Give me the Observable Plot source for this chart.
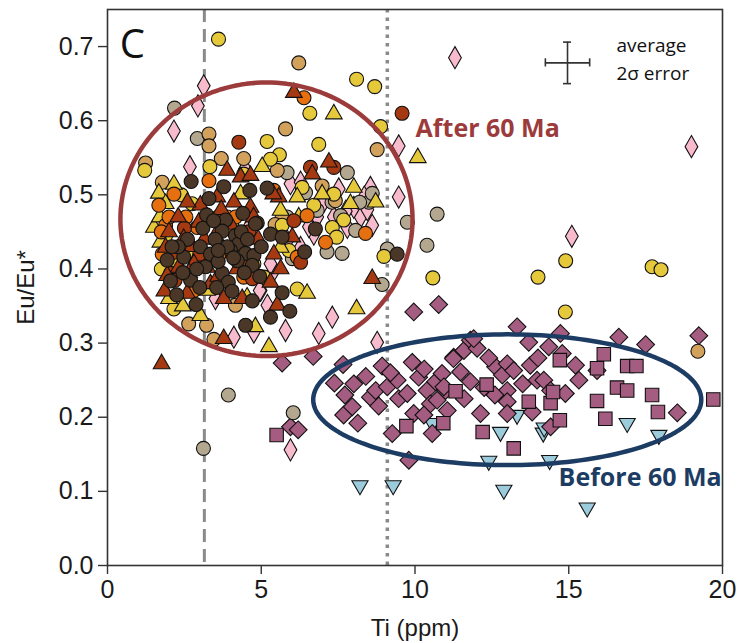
<!DOCTYPE html>
<html>
<head>
<meta charset="utf-8">
<script src="https://cdn.jsdelivr.net/npm/d3@7"></script>
<script src="https://cdn.jsdelivr.net/npm/@observablehq/plot@0.6"></script>
<style>
  html, body { margin: 0; padding: 0; background: #fff; }
  #chart svg { display: block; }
</style>
</head>
<body>
<div id="chart"></div>
<script>
// Zircon Eu/Eu* versus Ti (ppm); each array is one sample group as [Ti, Eu/Eu*] pairs.

const lightBlueTriangles = [
  [12.78,0.180],[13.32,0.203],[14.17,0.179],[12.40,0.141],[14.38,0.142],[16.9,0.192],
  [17.93,0.176],[12.89,0.102],[15.6,0.078],[8.21,0.108],[9.29,0.108],[10.56,0.192],[14.2,0.186]
];

const mauveDiamonds = [
  [9.96,0.342],[10.77,0.352],[5.68,0.273],[6.69,0.282],[7.66,0.271],[8.93,0.269],[9.91,0.274],
  [7.38,0.246],[8.01,0.245],[7.72,0.230],[7.68,0.203],[8.14,0.192],[7.96,0.214],[8.55,0.227],
  [8.72,0.236],[8.82,0.215],[9.10,0.241],[9.42,0.250],[9.47,0.225],[9.26,0.178],[9.80,0.142],
  [9.75,0.232],[9.96,0.205],[10.12,0.254],[10.39,0.236],[10.5,0.218],[10.56,0.178],[10.67,0.248],
  [10.88,0.259],[10.99,0.236],[11.05,0.209],[11.26,0.281],[11.59,0.290],[11.80,0.304],[12.02,0.293],
  [11.48,0.261],[11.80,0.248],[10.29,0.203],[10.72,0.223],[12.13,0.205],[12.62,0.268],[12.84,0.257],
  [13.0,0.272],[13.21,0.263],[13.32,0.322],[13.70,0.301],[13.75,0.270],[13.97,0.250],[13.0,0.236],
  [13.0,0.221],[13.0,0.205],[13.81,0.207],[14.19,0.250],[14.41,0.236],[14.73,0.313],[14.35,0.295],
  [14.79,0.286],[14.89,0.232],[15.22,0.270],[15.33,0.250],[14.41,0.187],[15.92,0.263],[16.63,0.308],
  [17.50,0.298],[18.53,0.206],[19.23,0.310],[5.95,0.187],[6.2,0.183],[11.25,0.279],[11.91,0.306],
  [10.94,0.241],[12.4,0.280],[12.25,0.240],[9.2,0.260],[8.4,0.255],[10.3,0.265],[12.6,0.230],
  [11.6,0.225],[13.5,0.245],[14.0,0.280]
];

const mauveSquares = [
  [11.32,0.235],[12.33,0.244],[9.72,0.188],[10.92,0.192],[12.20,0.180],[13.70,0.221],[13.21,0.158],
  [14.41,0.219],[14.49,0.234],[14.71,0.277],[14.71,0.196],[15.92,0.266],[16.14,0.285],[16.90,0.269],
  [17.2,0.269],[15.92,0.222],[16.57,0.240],[16.90,0.236],[16.19,0.198],[17.71,0.230],[17.90,0.207],
  [19.70,0.224],[5.5,0.176]
];

const pinkDiamonds = [
  [3.13,0.647],[2.94,0.620],[2.16,0.586],[2.68,0.538],[4.47,0.535],[9.47,0.566],[9.47,0.497],
  [7.52,0.508],[8.55,0.510],[8.61,0.459],[5.95,0.515],[5.41,0.398],[4.98,0.371],[5.20,0.351],
  [7.31,0.335],[6.87,0.313],[5.79,0.317],[4.11,0.308],[4.76,0.315],[8.77,0.301],[3.51,0.360],
  [6.28,0.517],[6.82,0.470],[7.36,0.470],[8.23,0.470],[8.01,0.483],[7.80,0.456],[5.84,0.438],
  [6.28,0.429],[6.71,0.447],[5.30,0.407],[4.54,0.452],[11.30,0.685],[15.10,0.444],[18.99,0.565],
  [5.95,0.156],[4.95,0.371],[7.05,0.492],[8.35,0.497],[7.75,0.478],[6.55,0.457],[8.45,0.480]
];

const grayCircles = [
  [2.18,0.617],[2.92,0.576],[7.80,0.530],[5.84,0.530],[6.44,0.503],[7.58,0.472],[8.50,0.490],
  [8.61,0.502],[8.07,0.452],[7.14,0.423],[7.63,0.421],[8.93,0.379],[9.75,0.463],[10.39,0.432],
  [9.10,0.427],[6.82,0.479],[6.01,0.414],[5.84,0.470],[10.72,0.474],[3.93,0.230],[6.04,0.206],
  [3.12,0.158],[8.2,0.490],[7.3,0.490]
];

const tanCircles = [
  [3.30,0.582],[3.30,0.566],[5.79,0.589],[4.43,0.549],[3.70,0.549],[1.24,0.543],[1.78,0.517],
  [5.52,0.533],[7.41,0.492],[8.77,0.561],[5.68,0.470],[2.64,0.326],[3.22,0.324],[3.46,0.305],
  [6.22,0.678],[4.16,0.351],[6.98,0.512],[19.2,0.289],[5.45,0.460],[3.9,0.470]
];

const yellowCircles = [
  [3.61,0.710],[8.10,0.656],[8.69,0.646],[6.58,0.610],[8.88,0.592],[5.19,0.572],[6.87,0.568],
  [5.59,0.554],[5.30,0.548],[1.21,0.533],[3.33,0.538],[6.33,0.510],[7.68,0.466],[7.31,0.456],
  [7.45,0.443],[5.90,0.425],[8.99,0.417],[1.89,0.445],[2.16,0.346],[5.09,0.389],[6.17,0.373],
  [4.43,0.528],[2.75,0.488],[2.37,0.429],[4.76,0.407],[5.68,0.459],[2.81,0.420],[4.06,0.456],
  [7.36,0.501],[6.71,0.486],[10.58,0.388],[14.0,0.389],[14.9,0.411],[17.71,0.403],[18.0,0.399],
  [14.89,0.342],[1.75,0.400],[2.4,0.500]
];

const yellowTriangles = [
  [7.36,0.609],[10.09,0.550],[5.03,0.538],[2.16,0.514],[1.67,0.502],[1.89,0.488],[8.01,0.510],
  [8.72,0.490],[7.90,0.488],[6.98,0.501],[6.17,0.497],[6.49,0.367],[8.10,0.346],[4.81,0.322],
  [5.25,0.295],[3.02,0.337],[1.51,0.456],[1.72,0.436],[6.22,0.470],[5.63,0.429],[2.27,0.407],
  [3.24,0.371],[4.38,0.420],[4.54,0.362],[2.92,0.416],[4.33,0.501],[5.63,0.479],[1.7,0.470],
  [2.0,0.360],[2.45,0.350]
];

const orangeCircles = [
  [2.16,0.501],[1.67,0.486],[3.30,0.519],[1.89,0.459],[1.78,0.420],[2.92,0.456],[6.49,0.472],
  [7.09,0.436],[8.39,0.448],[2.81,0.371],[4.43,0.389],[5.41,0.506],[6.39,0.631],[4.16,0.470],
  [3.62,0.418],[6.17,0.416],[2.0,0.470],[2.55,0.470],[1.75,0.450]
];

const rustCircles = [
  [4.27,0.571],[9.58,0.610],[6.60,0.537],[7.36,0.537],[6.06,0.465],[4.71,0.387],[3.24,0.418],
  [6.28,0.409],[2.05,0.394],[3.6,0.470],[2.5,0.455],[2.2,0.385],[3.0,0.420],[4.6,0.450]
];

const rustTriangles = [
  [3.89,0.533],[4.33,0.524],[4.65,0.526],[3.57,0.497],[4.11,0.490],[3.02,0.486],[2.30,0.470],
  [2.97,0.463],[5.57,0.497],[5.39,0.501],[7.20,0.544],[6.66,0.528],[6.06,0.638],[6.01,0.443],
  [5.63,0.400],[5.41,0.420],[5.30,0.382],[5.52,0.351],[4.22,0.400],[4.22,0.436],[2.59,0.367],
  [3.78,0.360],[4.38,0.360],[3.78,0.306],[8.61,0.387],[2.48,0.441],[3.51,0.445],[4.65,0.483],
  [4.75,0.470],[3.24,0.402],[3.35,0.380],[2.81,0.407],[2.32,0.402],[1.89,0.429],[1.94,0.391],
  [1.76,0.272],[3.7,0.480],[4.0,0.460],[2.6,0.490],[2.0,0.450],[2.2,0.420],[2.75,0.430],
  [3.15,0.440],[2.65,0.395],[3.6,0.390],[4.5,0.410],[4.9,0.440],[1.85,0.370]
];

const darkBrownCircles = [
  [3.22,0.473],[3.84,0.466],[4.87,0.462],[3.73,0.451],[4.16,0.445],[4.27,0.434],[4.0,0.425],
  [4.49,0.421],[4.76,0.418],[4.22,0.411],[4.71,0.405],[3.02,0.430],[2.48,0.416],[1.94,0.412],
  [3.19,0.403],[3.73,0.394],[3.93,0.382],[2.70,0.385],[2.05,0.384],[4.71,0.357],[2.88,0.352],
  [4.49,0.324],[2.72,0.518],[3.78,0.511],[4.63,0.506],[5.19,0.509],[4.81,0.461],[5.30,0.447],
  [5.68,0.443],[6.76,0.454],[6.41,0.423],[9.42,0.420],[5.68,0.368],[5.30,0.335],[5.93,0.343],
  [3.5,0.440],[3.35,0.420],[4.45,0.395],[2.6,0.440],[3.9,0.430],[4.35,0.450],[3.6,0.410],
  [4.1,0.415],[4.55,0.440],[3.6,0.425],[2.3,0.430],[2.9,0.400],[3.1,0.455],[3.45,0.465],
  [4.4,0.475],[2.45,0.395],[3.0,0.375],[3.55,0.375],[4.05,0.370],[2.25,0.365],[5.0,0.430],
  [4.95,0.390],[3.3,0.495],[2.1,0.430]
];

// Axis ticks
const xTicks = [0, 5, 10, 15, 20];
const yTicks = [0, 0.1, 0.2, 0.3, 0.4, 0.5, 0.6, 0.7];

// Reference Ti values (vertical guides)
const dashedTi = [3.15];
const dottedTi = [9.1];

// Grouping ellipses: centre and semi-axes in data units
const afterRegion = {ti: 5.17, eu: 0.467, rTi: 4.75, rEu: 0.1845};
const beforeRegion = {ti: 13.0, eu: 0.2236, rTi: 6.31, rEu: 0.0882};

// Average 2σ error cross
const errorCross = {ti: 14.96, eu: 0.678, dTi: 0.72, dEu: 0.028};

const rows = pairs => pairs.map(([ti, eu]) => ({ti, eu}));

const ellipsePath = e => d3.range(0, 361, 2).map(a => {
  const t = a * Math.PI / 180;
  return {ti: e.ti + e.rTi * Math.cos(t), eu: e.eu + e.rEu * Math.sin(t)};
});

// Downward-pointing triangle symbol
const triangleDown = {
  draw(context, size) {
    const s3 = Math.sqrt(3);
    const y = Math.sqrt(size / (s3 * 3));
    context.moveTo(0, 2 * y);
    context.lineTo(s3 * y, -y);
    context.lineTo(-s3 * y, -y);
    context.closePath();
  }
};

const groups = [
  {data: lightBlueTriangles, symbol: triangleDown, fill: "#9ccbdb", r: 6},
  {data: mauveDiamonds, symbol: "diamond2", fill: "#a45c80", r: 8},
  {data: mauveSquares, symbol: "square", fill: "#a45c80", r: 7.6},
  {data: pinkDiamonds, symbol: "diamond", fill: "#f8bacd", r: 6.7},
  {data: grayCircles, symbol: "circle", fill: "#b3a88f", r: 7},
  {data: tanCircles, symbol: "circle", fill: "#d2a25c", r: 7},
  {data: yellowCircles, symbol: "circle", fill: "#e6c83b", r: 7},
  {data: yellowTriangles, symbol: "triangle", fill: "#e6c83b", r: 6.2},
  {data: orangeCircles, symbol: "circle", fill: "#e6700f", r: 7},
  {data: rustCircles, symbol: "circle", fill: "#a53a12", r: 7},
  {data: rustTriangles, symbol: "triangle", fill: "#a53a12", r: 6.2},
  {data: darkBrownCircles, symbol: "circle", fill: "#4a3727", r: 7}
];

const ink = "#333";
const sans = "'Liberation Sans', Arial, sans-serif";
const labelFont = "'Open Sans', sans-serif";

const chart = Plot.plot({
  width: 739,
  height: 643,
  marginLeft: 107,
  marginRight: 17,
  marginTop: 9,
  marginBottom: 78,
  style: {fontFamily: sans, fontSize: "25px", color: "#1a1a1a", background: "#fff"},
  x: {domain: [0, 20]},
  y: {domain: [0, 0.75]},
  marks: [
    Plot.ruleX(dashedTi, {stroke: "#8a8a8a", strokeWidth: 3, strokeDasharray: "13,7"}),
    Plot.ruleX(dottedTi, {stroke: "#8a8a8a", strokeWidth: 3.5, strokeDasharray: "3.5,5"}),
    ...groups.map(g => Plot.dot(rows(g.data), {
      x: "ti", y: "eu", symbol: g.symbol, r: g.r,
      fill: g.fill, stroke: "#111", strokeWidth: 1.1
    })),
    Plot.line(ellipsePath(afterRegion), {x: "ti", y: "eu", stroke: "#9c3b3b", strokeWidth: 4.5}),
    Plot.line(ellipsePath(beforeRegion), {x: "ti", y: "eu", stroke: "#1d3c63", strokeWidth: 4.5}),
    // error cross
    Plot.ruleY([errorCross], {y: "eu", x1: d => d.ti - d.dTi, x2: d => d.ti + d.dTi, stroke: ink, strokeWidth: 1.6}),
    Plot.ruleX([errorCross], {x: "ti", y1: d => d.eu - d.dEu, y2: d => d.eu + d.dEu, stroke: ink, strokeWidth: 1.6}),
    Plot.ruleX([errorCross.ti - errorCross.dTi, errorCross.ti + errorCross.dTi], {
      y1: errorCross.eu - 0.0055, y2: errorCross.eu + 0.0055, stroke: ink, strokeWidth: 1.6
    }),
    Plot.ruleY([errorCross.eu - errorCross.dEu, errorCross.eu + errorCross.dEu], {
      x1: errorCross.ti - 0.13, x2: errorCross.ti + 0.13, stroke: ink, strokeWidth: 1.6
    }),
    Plot.text(["average"], {x: 16.55, y: 0.701, text: d => d, textAnchor: "start", fontFamily: labelFont, fontSize: 19, fill: "#111"}),
    Plot.text(["2σ error"], {x: 16.55, y: 0.663, text: d => d, textAnchor: "start", fontFamily: labelFont, fontSize: 19, fill: "#111"}),
    // group labels
    Plot.text(["After 60 Ma"], {x: 10.02, y: 0.589, text: d => d, textAnchor: "start", fontFamily: labelFont, fontWeight: "bold", fontSize: 25, fill: "#9c3b3b"}),
    Plot.text(["Before 60 Ma"], {x: 14.67, y: 0.118, text: d => d, textAnchor: "start", fontFamily: labelFont, fontWeight: "bold", fontSize: 25, fill: "#1d3c63"}),
    // panel letter
    Plot.text(["C"], {x: 0.81, y: 0.702, text: d => d, fontFamily: labelFont, fontSize: 40, fill: "#111"}),
    Plot.frame({stroke: ink, strokeWidth: 1.6}),
    Plot.axisX({ticks: xTicks, tickSize: 9, tickPadding: 6, label: null, fontSize: 25, stroke: ink, strokeWidth: 1.4}),
    Plot.axisY({ticks: yTicks, tickFormat: d3.format(".1f"), tickSize: 9, tickPadding: 5, label: null, fontSize: 25, stroke: ink, strokeWidth: 1.4}),
    Plot.text(["Ti (ppm)"], {frameAnchor: "bottom", dy: 63, lineAnchor: "middle", textAnchor: "middle", text: d => d, fontSize: 24, fill: "#1a1a1a"}),
    Plot.text(["Eu/Eu*"], {frameAnchor: "left", dx: -81, rotate: -90, textAnchor: "middle", lineAnchor: "middle", text: d => d, fontSize: 24, fill: "#1a1a1a"})
  ]
});

document.getElementById("chart").appendChild(chart);
</script>
</body>
</html>
